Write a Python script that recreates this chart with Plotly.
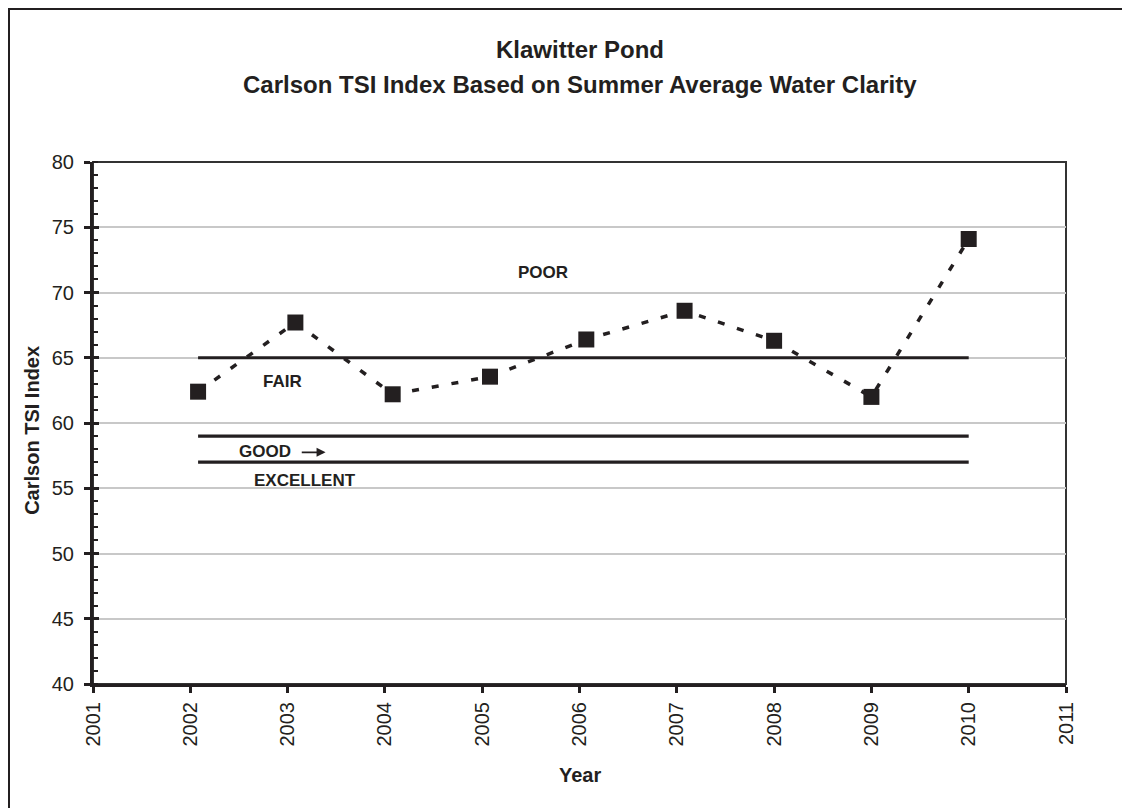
import plotly.graph_objects as go

# ---- data ----
years = [2002.08, 2003.08, 2004.08, 2005.08, 2006.07, 2007.08, 2008.0, 2009.0, 2010.0]
tsi = [62.4, 67.7, 62.2, 63.55, 66.4, 68.6, 66.3, 62.0, 74.1]

threshold_levels = [65, 59, 57]
threshold_span = [2002.08, 2010.0]

x_ticks = list(range(2001, 2012))
y_ticks = list(range(40, 81, 5))

DARK = "#231f20"
FONT = "Liberation Sans, Arial, sans-serif"

fig = go.Figure()

# threshold lines
for lvl in threshold_levels:
    fig.add_trace(go.Scatter(
        x=threshold_span, y=[lvl, lvl], mode="lines",
        line=dict(color=DARK, width=3.2), hoverinfo="skip", showlegend=False))

# data series
fig.add_trace(go.Scatter(
    x=years, y=tsi, mode="lines+markers",
    line=dict(color=DARK, width=3.5, dash="7px,13px"),
    marker=dict(symbol="square", size=16, color=DARK),
    showlegend=False))

# invisible trace on yaxis2 so inside major ticks render
fig.add_trace(go.Scatter(x=[2001], y=[40], yaxis="y2", mode="markers",
                         marker=dict(opacity=0), hoverinfo="skip", showlegend=False))

fig.update_layout(
    width=1130, height=808,
    margin=dict(l=85, r=72, t=154, b=132),
    paper_bgcolor="white", plot_bgcolor="white",
    font=dict(family=FONT, color=DARK, size=20),
    showlegend=False,
    xaxis=dict(
        range=[2001, 2011], tickvals=x_ticks, ticktext=[str(t) for t in x_ticks],
        tickangle=-90, ticks="outside", ticklen=6, tickwidth=3, tickcolor=DARK,
        showline=True, linewidth=3, linecolor=DARK, showgrid=False, zeroline=False,
        tickfont=dict(size=20, color=DARK), ticklabelstandoff=1,
    ),
    yaxis=dict(
        range=[40, 80], tickvals=y_ticks, ticks="outside", ticklen=6, tickwidth=3,
        tickcolor=DARK, showline=True, linewidth=3, linecolor=DARK,
        showgrid=True, gridcolor="#c8c8c8", gridwidth=1.5, zeroline=False,
        tickfont=dict(size=20, color=DARK), ticklabelstandoff=6,
        minor=dict(ticks="inside", dtick=1, ticklen=5, tickwidth=2, tickcolor=DARK, showgrid=False),
    ),
    yaxis2=dict(
        range=[40, 80], overlaying="y", side="left", tickvals=y_ticks,
        ticks="inside", ticklen=6, tickwidth=3, tickcolor=DARK,
        showticklabels=False, showline=False, showgrid=False, zeroline=False,
    ),
)

# plot-area border (top/right) and outer chart border
fig.add_shape(type="rect", xref="paper", yref="paper", x0=0, y0=0, x1=1, y1=1,
              line=dict(color="#333333", width=2), layer="below")
fig.add_shape(type="rect", xref="paper", yref="paper",
              x0=(9 - 93) / 973, x1=(1123 - 93) / 973,
              y0=(684 - 830) / 522, y1=(684 - 9) / 522,
              line=dict(color=DARK, width=2))

# titles
fig.add_annotation(text="<b>Klawitter Pond</b>", xref="paper", yref="paper",
                   x=0.5, y=(684 - 50) / 522, yanchor="middle", showarrow=False,
                   font=dict(size=24, color=DARK, family=FONT))
fig.add_annotation(text="<b>Carlson TSI Index Based on Summer Average Water Clarity</b>",
                   xref="paper", yref="paper", x=0.5, y=(684 - 84) / 522,
                   yanchor="middle", showarrow=False,
                   font=dict(size=24, color=DARK, family=FONT))
fig.add_annotation(text="<b>Year</b>", xref="paper", yref="paper",
                   x=0.5, y=(684 - 775) / 522, yanchor="middle", showarrow=False,
                   font=dict(size=20, color=DARK, family=FONT))
fig.add_annotation(text="<b>Carlson TSI Index</b>", xref="paper", yref="paper",
                   x=(32 - 93) / 973, y=0.485, textangle=-90, showarrow=False,
                   xanchor="center", yanchor="middle",
                   font=dict(size=20, color=DARK, family=FONT))

# zone labels
lab_font = dict(size=17, color=DARK, family=FONT)
for txt, xx, yy in [("POOR", 2005.62, 71.5), ("FAIR", 2002.95, 63.2),
                    ("GOOD", 2002.77, 57.8), ("EXCELLENT", 2003.18, 55.6)]:
    fig.add_annotation(text=f"<b>{txt}</b>", x=xx, y=yy, xref="x", yref="y",
                       showarrow=False, font=lab_font)
fig.add_annotation(x=2003.39, y=57.75, ax=2003.13, ay=57.75, xref="x", yref="y",
                   axref="x", ayref="y", text="", showarrow=True,
                   arrowhead=2, arrowsize=1, arrowwidth=1.8, arrowcolor=DARK)

fig.write_html("out.html")
